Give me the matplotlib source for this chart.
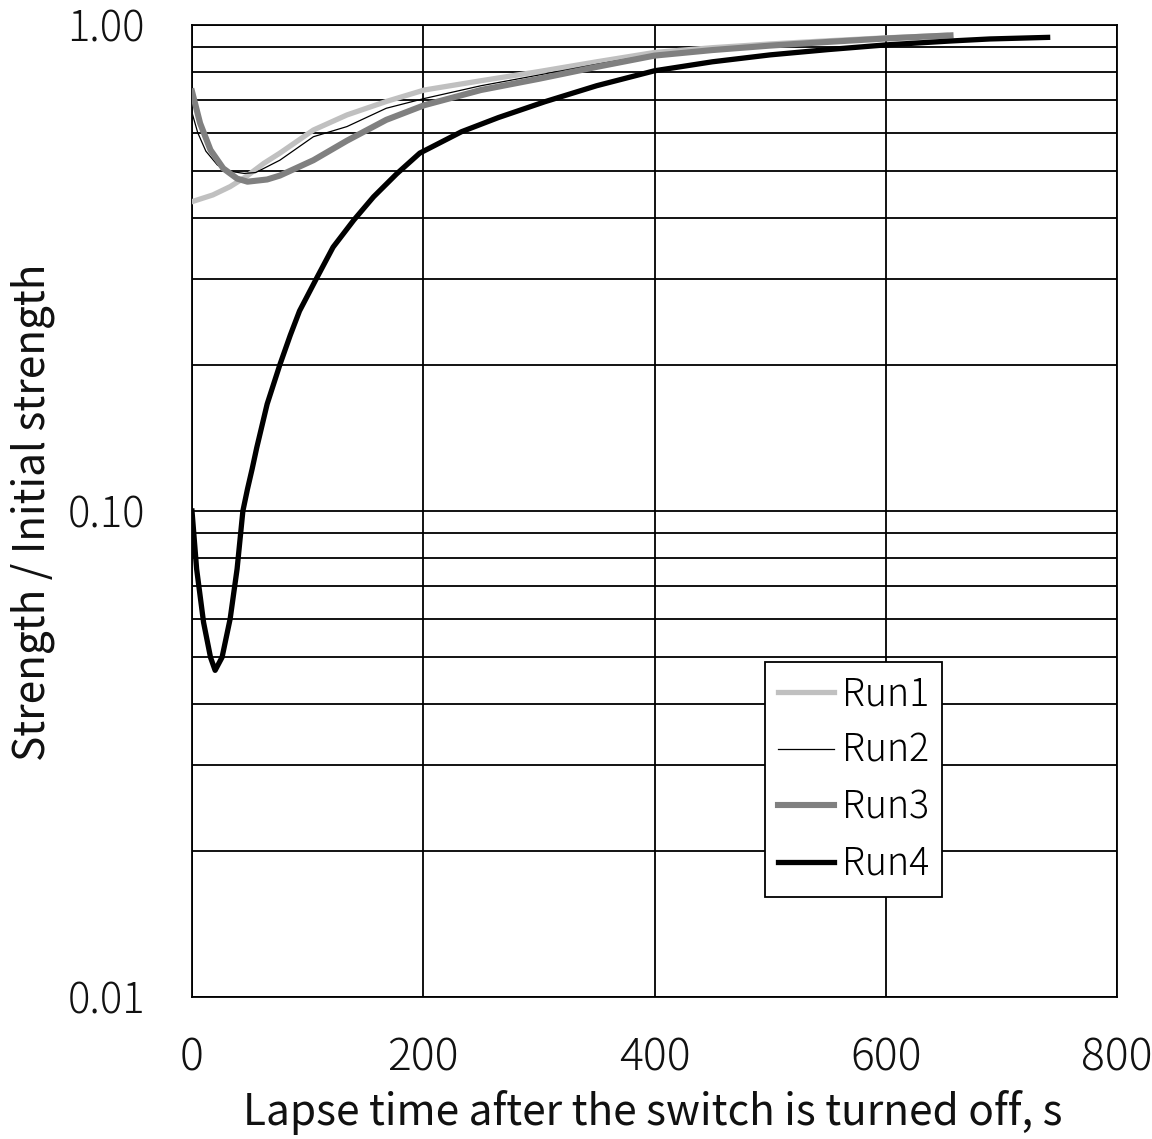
import matplotlib
matplotlib.use("Agg")
import matplotlib.pyplot as plt
from matplotlib.ticker import FixedLocator, NullFormatter

plt.rcParams['font.family'] = ['Noto Sans CJK JP', 'DejaVu Sans']
plt.rcParams['font.weight'] = 'light'

# ---- data ----
run1_t = [0, 18, 33, 47, 62, 76, 105, 134, 168, 201, 250, 300, 350, 400, 450, 500, 550, 600, 652]
run1_v = [0.433, 0.447, 0.465, 0.488, 0.519, 0.545, 0.608, 0.653, 0.696, 0.735, 0.768, 0.802, 0.84, 0.878, 0.898, 0.914, 0.928, 0.941, 0.952]

run2_t = [0, 5, 12, 22, 33, 45, 55, 76, 105, 134, 168, 201, 250, 300, 350, 400, 450, 500, 550, 600, 654]
run2_v = [0.66, 0.60, 0.55, 0.515, 0.50, 0.495, 0.497, 0.527, 0.589, 0.618, 0.674, 0.706, 0.75, 0.789, 0.83, 0.87, 0.892, 0.91, 0.925, 0.939, 0.951]

run3_t = [0, 7, 16, 27, 39, 48, 65, 76, 105, 134, 168, 201, 250, 300, 350, 400, 450, 500, 550, 600, 656]
run3_v = [0.73, 0.628, 0.553, 0.507, 0.483, 0.476, 0.481, 0.49, 0.527, 0.578, 0.638, 0.684, 0.735, 0.775, 0.82, 0.865, 0.888, 0.907, 0.923, 0.938, 0.952]

run4_t = [0, 4, 10, 16, 20, 26, 33, 39, 44, 48, 52, 56, 65, 76, 85, 93, 108, 122, 140, 157, 177, 197, 233, 265,
          305, 350, 400, 450, 500, 550, 600, 656, 690, 740]
run4_v = [0.100, 0.076, 0.059, 0.050, 0.047, 0.050, 0.060, 0.076, 0.100, 0.111, 0.122, 0.135, 0.166, 0.20, 0.23, 0.258,
          0.302, 0.349, 0.397, 0.443, 0.494, 0.545, 0.603, 0.645, 0.695, 0.75, 0.805, 0.84, 0.868, 0.89,
          0.91, 0.927, 0.936, 0.943]

series_names = ["Run1", "Run2", "Run3", "Run4"]
x_ticks = [0, 200, 400, 600, 800]
y_ticks = [0.01, 0.1, 1.0]
y_tick_labels = ["0.01", "0.10", "1.00"]
y_minor = [m * d for d in (0.01, 0.1) for m in range(2, 10)]

fig = plt.figure(figsize=(11.52, 11.39), dpi=100)
ax = fig.add_axes([192 / 1152, 1 - 997 / 1139, (1117 - 192) / 1152, (997 - 25) / 1139])

ax.set_yscale('log')
ax.set_xlim(0, 800)
ax.set_ylim(0.01, 1.0)

ax.yaxis.set_major_locator(FixedLocator(y_ticks))
ax.yaxis.set_minor_locator(FixedLocator(y_minor))
ax.yaxis.set_minor_formatter(NullFormatter())
ax.set_yticks(y_ticks)
ax.set_yticklabels(y_tick_labels)
ax.set_xticks(x_ticks)
ax.set_xticklabels([str(v) for v in x_ticks])

ax.grid(True, which='both', axis='y', color='black', linewidth=1.3)
ax.grid(True, which='major', axis='x', color='black', linewidth=1.3)
ax.set_axisbelow(True)
for s in ax.spines.values():
    s.set_color('black')
    s.set_linewidth(1.3)

ax.tick_params(axis='both', which='both', length=0)
ax.tick_params(axis='y', labelsize=30, pad=34, colors='#111111')
ax.tick_params(axis='x', labelsize=32, pad=28, colors='#111111')

ax.plot(run1_t, run1_v, color='#c0c0c0', lw=3.8, label=series_names[0], zorder=3)
ax.plot(run2_t, run2_v, color='black', lw=0.9, label=series_names[1], zorder=4)
ax.plot(run3_t, run3_v, color='#808080', lw=4.4, label=series_names[2], zorder=5)
ax.plot(run4_t, run4_v, color='black', lw=3.8, label=series_names[3], zorder=6)

ax.set_xlabel("Lapse time after the switch is turned off, s", fontsize=30.5, color='#111111')
ax.xaxis.set_label_coords(0.498, -0.119)
ax.xaxis.label.set_va('center')
ax.set_ylabel("Strength / Initial strength", fontsize=30.5, color='#111111')
ax.yaxis.set_label_coords(-0.172, 0.499)
ax.yaxis.label.set_va('center')

leg = ax.legend(loc='upper left', bbox_to_anchor=(0.6195, 0.3447), borderaxespad=0,
                fontsize=27, handlelength=1.5, handletextpad=0.2, labelspacing=0.45,
                borderpad=0.35, fancybox=False, framealpha=1, edgecolor='black')
leg.get_frame().set_linewidth(1.3)
leg.set_zorder(10)

fig.savefig("out.png", dpi=100)
